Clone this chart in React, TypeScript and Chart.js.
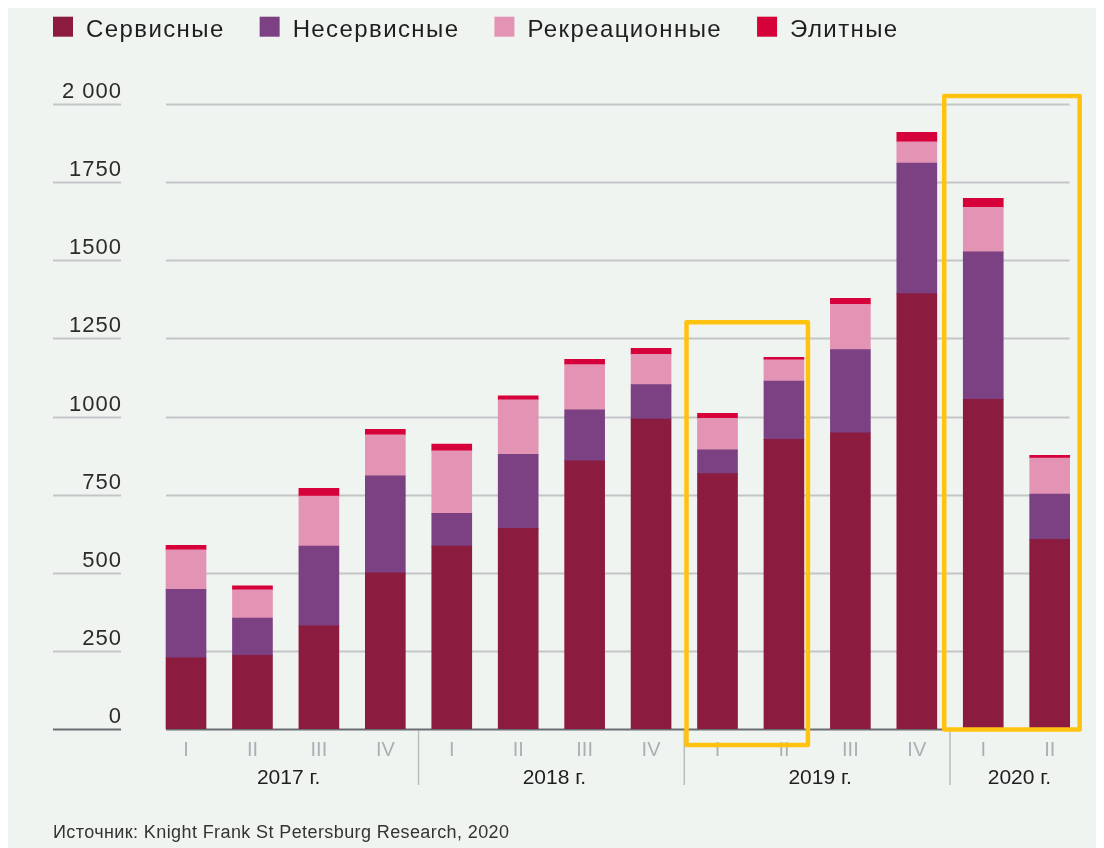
import React, { useEffect, useRef } from "react";
import { Chart, registerables } from "chart.js";

Chart.register(...registerables);

const quarters = ["I", "II", "III", "IV", "I", "II", "III", "IV", "I", "II", "III", "IV", "I", "II"];
const years = ["2017 г.", "2018 г.", "2019 г.", "2020 г."];
const yearGroups = [[0, 3], [4, 7], [8, 11], [12, 13]];
const highlightGroups = [[8, 9], [12, 13]];

const seriesNames = ["Сервисные", "Несервисные", "Рекреационные", "Элитные"];
const seriesColors = ["#8b1c40", "#7b4183", "#e393b3", "#d6003a"];

const servicesValues = [228, 236, 330, 500, 585, 642, 858, 992, 817, 927, 948, 1393, 1055, 607];
const nonServicesValues = [219, 119, 255, 310, 105, 237, 163, 110, 76, 186, 266, 418, 472, 145];
const recreationValues = [126, 90, 160, 131, 200, 174, 145, 97, 101, 68, 145, 68, 142, 115];
const eliteValues = [15, 13, 25, 18, 22, 13, 17, 19, 16, 8, 19, 30, 29, 9];

const yTickValues = [0, 250, 500, 750, 1000, 1250, 1500, 1750, 2000];
const yTickLabels = ["0", "250", "500", "750", "1000", "1250", "1500", "1750", "2 000"];

const sourceText = "Источник: Knight Frank St Petersburg Research, 2020";

const BG = "#f0f4f1";
const FONT = "'Liberation Sans', Arial, sans-serif";

const decorPlugin = {
  id: "decor",
  beforeDraw(chart: any) {
    const { ctx, width, height } = chart;
    ctx.save();
    ctx.fillStyle = BG;
    ctx.fillRect(0, 0, width, height);
    ctx.restore();
  },
  beforeDatasetsDraw(chart: any) {
    const { ctx } = chart;
    const xs = chart.scales.x;
    const ys = chart.scales.y;
    const gx1 = xs.getPixelForValue(0) - 20;
    const gx2 = xs.getPixelForValue(quarters.length - 1) + 20;
    ctx.save();
    yTickValues.forEach((v, i) => {
      const y = Math.round(ys.getPixelForValue(v)) + 0.5;
      const isZero = v === 0;
      ctx.strokeStyle = isZero ? "#6a6d70" : "#c3c6c8";
      ctx.lineWidth = 2;
      ctx.beginPath();
      ctx.moveTo(45, y);
      ctx.lineTo(113, y);
      ctx.stroke();
      ctx.beginPath();
      ctx.moveTo(gx1, y);
      ctx.lineTo(gx2, y);
      ctx.stroke();
      ctx.fillStyle = "#2b2b2b";
      ctx.font = `22px ${FONT}`;
      (ctx as any).letterSpacing = "1px";
      ctx.textAlign = "right";
      ctx.textBaseline = "alphabetic";
      ctx.fillText(yTickLabels[i], 114, y - 6.5);
      (ctx as any).letterSpacing = "0px";
    });
    ctx.restore();
  },
  afterDraw(chart: any) {
    const { ctx } = chart;
    const xs = chart.scales.x;
    const ys = chart.scales.y;
    const y0 = ys.getPixelForValue(0);
    ctx.save();
    // quarter labels
    ctx.font = `20px ${FONT}`;
    ctx.fillStyle = "#abb0b4";
    ctx.textAlign = "center";
    ctx.textBaseline = "alphabetic";
    quarters.forEach((q, i) => {
      ctx.fillText(q, xs.getPixelForValue(i), y0 + 26.5);
    });
    // year separators and labels
    ctx.strokeStyle = "#b9bdc0";
    ctx.lineWidth = 1.5;
    for (let g = 1; g < yearGroups.length; g++) {
      const x = (xs.getPixelForValue(yearGroups[g - 1][1]) + xs.getPixelForValue(yearGroups[g][0])) / 2;
      ctx.beginPath();
      ctx.moveTo(x, y0 + 2);
      ctx.lineTo(x, y0 + 56);
      ctx.stroke();
    }
    ctx.font = `21px ${FONT}`;
    ctx.fillStyle = "#1e1e1e";
    yearGroups.forEach((gr, i) => {
      const x = (xs.getPixelForValue(gr[0]) + xs.getPixelForValue(gr[1])) / 2;
      ctx.fillText(years[i], x + 3, y0 + 55);
    });
    // highlight boxes
    ctx.strokeStyle = "#ffc20e";
    ctx.lineWidth = 4.5;
    ctx.lineJoin = "round";
    const [a1, b1] = highlightGroups[0];
    const r1l = xs.getPixelForValue(a1) - 31;
    const r1r = xs.getPixelForValue(b1) + 24;
    const r1t = ys.getPixelForValue(1302);
    const r1b = y0 + 16;
    ctx.strokeRect(r1l, r1t, r1r - r1l, r1b - r1t);
    const [a2, b2] = highlightGroups[1];
    const r2l = xs.getPixelForValue(a2) - 39;
    const r2r = xs.getPixelForValue(b2) + 30;
    const r2t = ys.getPixelForValue(2000) - 8;
    const r2b = y0 + 0.5;
    ctx.strokeRect(r2l, r2t, r2r - r2l, r2b - r2t);
    // legend
    ctx.font = `24px ${FONT}`;
    (ctx as any).letterSpacing = "1.4px";
    ctx.textAlign = "left";
    ctx.textBaseline = "alphabetic";
    let lx = 45;
    chart.data.datasets.forEach((ds: any) => {
      ctx.fillStyle = ds.backgroundColor;
      ctx.fillRect(lx, 8.7, 20, 20);
      ctx.fillStyle = "#1e1e1e";
      const tx = lx + 33;
      ctx.fillText(ds.label, tx, 28.7);
      lx = tx + ctx.measureText(ds.label).width + 35;
    });
    // source
    ctx.font = `18px ${FONT}`;
    (ctx as any).letterSpacing = "0.4px";
    ctx.fillStyle = "#333";
    ctx.fillText(sourceText, 45, 830);
    ctx.restore();
  },
};

export default function App() {
  const ref = useRef<HTMLCanvasElement>(null);
  useEffect(() => {
    if (!ref.current) return;
    const valueSets = [servicesValues, nonServicesValues, recreationValues, eliteValues];
    const chart = new Chart(ref.current, {
      type: "bar",
      data: {
        labels: quarters.map((q, i) => `${q}-${i}`),
        datasets: seriesNames.map((name, i) => ({
          label: name,
          data: valueSets[i],
          backgroundColor: seriesColors[i],
          borderWidth: 0,
          barThickness: 40,
        })),
      },
      options: {
        responsive: false,
        animation: false,
        devicePixelRatio: 1,
        layout: { padding: { left: 144.8, right: 21.1, top: 96, bottom: 119 } },
        plugins: { legend: { display: false }, tooltip: { enabled: false } },
        scales: {
          x: { stacked: true, display: false },
          y: { stacked: true, display: false, min: 0, max: 2000 },
        },
      },
      plugins: [decorPlugin],
    });
    return () => chart.destroy();
  }, []);
  return <canvas ref={ref} width={1096} height={840} style={{ display: "block" }} />;
}
